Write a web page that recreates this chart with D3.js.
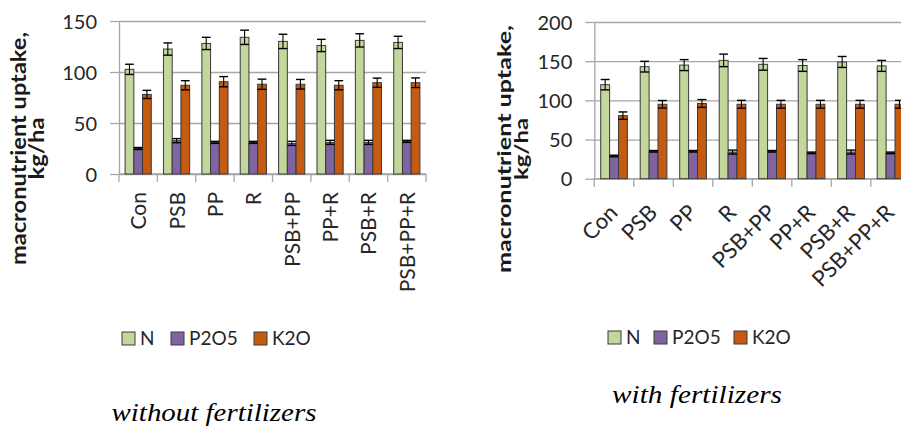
<!DOCTYPE html>
<html>
<head>
<meta charset="utf-8">
<script src="https://cdn.jsdelivr.net/npm/d3@7"></script>
<style>
  html, body { margin: 0; padding: 0; background: #fff; }
  svg { display: block; }
  .tick text { font-family: Lato, "Open Sans", sans-serif; fill: #262626; }
</style>
</head>
<body>
<svg id="chart" width="901" height="426"></svg>
<script>
// Treatments and nutrients
const categories = ["Con", "PSB", "PP", "R", "PSB+PP", "PP+R", "PSB+R", "PSB+PP+R"];
const nutrients = ["N", "P2O5", "K2O"];
const nutrientColors = ["#c3d69b", "#8064a2", "#c55a11"];

// Uptake without fertilizers (kg/ha) and error margins
const plainN = [102.6, 122.5, 128, 134, 130, 126, 131, 129];
const plainNErr = [5, 6, 6, 7, 7, 6, 6.5, 6];
const plainP = [25, 32.7, 31, 31, 30, 31, 31, 32];
const plainPErr = [1, 2, 1, 1, 2, 2, 2, 1];
const plainK = [78, 87, 90.5, 88, 88, 87, 89.5, 89.5];
const plainKErr = [4, 4.5, 5, 5, 4.7, 4.5, 4.5, 4.7];

// Uptake with fertilizers (kg/ha) and error margins
const fertN = [120, 143, 145, 151, 146, 144.5, 149, 144];
const fertNErr = [6.6, 6.8, 7, 8, 7.5, 7.5, 7, 7];
const fertP = [29, 35, 35, 34, 35, 33, 34, 33];
const fertPErr = [1, 1, 1, 2.5, 1, 1, 2.5, 1];
const fertK = [80.5, 95, 96, 95, 95, 95, 95, 95];
const fertKErr = [4.7, 4.8, 5, 5, 5, 5, 5, 5];

const plainTicks = [0, 50, 100, 150];
const fertTicks = [0, 50, 100, 150, 200];

const svg = d3.select("#chart");

function panel(opt) {
  const g = svg.append("g");
  const x = d3.scaleBand().domain(categories).range([opt.x0, opt.x1]).padding(0);
  const inner = d3.scaleBand().domain(nutrients)
    .range([opt.groupPad, x.bandwidth() - opt.groupPad]).padding(0);
  const y = d3.scaleLinear().domain([0, opt.max]).range([opt.yBottom, opt.yTop]);

  // horizontal gridlines
  g.append("g")
    .attr("transform", `translate(${opt.x0},0)`)
    .call(d3.axisLeft(y).tickValues(opt.ticks).tickSize(-(opt.x1 - opt.x0)).tickFormat(""))
    .call(s => s.select(".domain").remove())
    .call(s => s.selectAll("line").attr("stroke", "#a6a6a6").attr("stroke-width", 1.3));

  // y axis with outward ticks
  g.append("g")
    .attr("transform", `translate(${opt.x0},0)`)
    .call(d3.axisLeft(y).tickValues(opt.ticks).tickSize(9).tickPadding(13).tickSizeOuter(0))
    .call(s => s.select(".domain").attr("stroke", "#a6a6a6").attr("stroke-width", 1.3))
    .call(s => s.selectAll("line").attr("stroke", "#a6a6a6").attr("stroke-width", 1.3))
    .call(s => s.selectAll("text").attr("font-size", 20).attr("dy", "0.36em"));

  // x axis baseline and boundary ticks
  const bounds = categories.map(c => x(c)).concat([opt.x1]);
  g.append("line")
    .attr("x1", opt.x0).attr("x2", opt.x1)
    .attr("y1", y(0)).attr("y2", y(0))
    .attr("stroke", "#a6a6a6").attr("stroke-width", 1.3);
  g.selectAll(".xtick").data(bounds).join("line")
    .attr("x1", d => d).attr("x2", d => d)
    .attr("y1", y(0)).attr("y2", y(0) + 8)
    .attr("stroke", "#a6a6a6").attr("stroke-width", 1.3);

  // bars
  const rows = [];
  categories.forEach((c, i) => {
    opt.values.forEach((vals, j) => {
      rows.push({ c, k: nutrients[j], v: vals[i], e: opt.errors[j][i], color: nutrientColors[j] });
    });
  });
  const bw = inner.bandwidth();
  g.selectAll(".bar").data(rows).join("rect")
    .attr("x", d => x(d.c) + inner(d.k))
    .attr("y", d => y(d.v))
    .attr("width", bw)
    .attr("height", d => y(0) - y(d.v))
    .attr("fill", d => d.color)
    .attr("stroke", "#3a3a3a").attr("stroke-width", 1);

  // error bars
  const eb = g.selectAll(".err").data(rows).join("g");
  eb.append("line")
    .attr("x1", d => x(d.c) + inner(d.k) + bw / 2)
    .attr("x2", d => x(d.c) + inner(d.k) + bw / 2)
    .attr("y1", d => y(d.v + d.e)).attr("y2", d => y(d.v - d.e))
    .attr("stroke", "#000").attr("stroke-width", 1.1);
  [1, -1].forEach(sgn => {
    eb.append("line")
      .attr("x1", d => x(d.c) + inner(d.k))
      .attr("x2", d => x(d.c) + inner(d.k) + bw)
      .attr("y1", d => y(d.v + sgn * d.e)).attr("y2", d => y(d.v + sgn * d.e))
      .attr("stroke", "#000").attr("stroke-width", 1.4);
  });

  // category labels
  g.selectAll(".cat").data(categories).join("text")
    .attr("transform", d => {
      const cx = x(d) + x.bandwidth() / 2;
      return opt.angle === -90
        ? `translate(${cx + 8},${opt.labelY}) rotate(-90)`
        : `translate(${cx + 5},${opt.labelY}) rotate(-45)`;
    })
    .attr("text-anchor", "end")
    .attr("font-family", "Lato, 'Open Sans', sans-serif")
    .attr("font-size", opt.catSize)
    .attr("fill", "#262626")
    .text(d => d);

  // y title (two lines)
  [["macronutrient uptake,", opt.titleX1, opt.titleLen1],
   ["kg/ha", opt.titleX2, opt.titleLen2]].forEach(([t, tx, len]) => {
    g.append("text")
      .attr("transform", `translate(${tx},${opt.titleMid}) rotate(-90)`)
      .attr("text-anchor", "middle")
      .attr("font-family", "Lato, 'Open Sans', sans-serif")
      .attr("font-weight", "bold")
      .attr("font-size", opt.titleSize)
      .attr("textLength", len)
      .attr("lengthAdjust", "spacingAndGlyphs")
      .attr("fill", "#1a1a1a")
      .text(t);
  });

  // legend
  const lg = g.append("g").attr("transform", `translate(${opt.legX},${opt.legY})`);
  nutrients.forEach((n, j) => {
    lg.append("rect")
      .attr("x", opt.legPos[j]).attr("y", 0)
      .attr("width", 13).attr("height", 13)
      .attr("fill", nutrientColors[j])
      .attr("stroke", "#3a3a3a").attr("stroke-width", 1);
    lg.append("text")
      .attr("x", opt.legPos[j] + 18).attr("y", 13)
      .attr("font-family", "Lato, 'Open Sans', sans-serif")
      .attr("font-size", 19)
      .attr("fill", "#262626")
      .text(n);
  });

  // caption
  g.append("text")
    .attr("x", opt.capX).attr("y", opt.capY)
    .attr("text-anchor", "middle")
    .attr("font-family", "'Liberation Serif', 'DejaVu Serif', serif")
    .attr("font-style", "italic")
    .attr("font-size", opt.capSize)
    .attr("textLength", opt.capLen)
    .attr("lengthAdjust", "spacingAndGlyphs")
    .attr("fill", "#000")
    .text(opt.caption);
}

panel({
  x0: 119, x1: 426, yTop: 21, yBottom: 174, max: 150, ticks: plainTicks,
  groupPad: 6.1,
  values: [plainN, plainP, plainK], errors: [plainNErr, plainPErr, plainKErr],
  angle: -90, labelY: 192, catSize: 21,
  titleX1: 26, titleX2: 44, titleMid: 148.5, titleSize: 20, titleLen1: 233, titleLen2: 62,
  legX: 122, legY: 332, legPos: [0, 49, 132],
  caption: "without fertilizers", capX: 214, capY: 420.5, capSize: 25, capLen: 205
});

panel({
  x0: 594.3, x1: 910.3, yTop: 22, yBottom: 178.7, max: 200, ticks: fertTicks,
  groupPad: 6.4,
  values: [fertN, fertP, fertK], errors: [fertNErr, fertPErr, fertKErr],
  angle: -45, labelY: 214, catSize: 22,
  titleX1: 511, titleX2: 528, titleMid: 149, titleSize: 19, titleLen1: 248, titleLen2: 62,
  legX: 608, legY: 331, legPos: [0, 46, 126],
  caption: "with fertilizers", capX: 697, capY: 403, capSize: 25, capLen: 170
});
</script>
</body>
</html>
